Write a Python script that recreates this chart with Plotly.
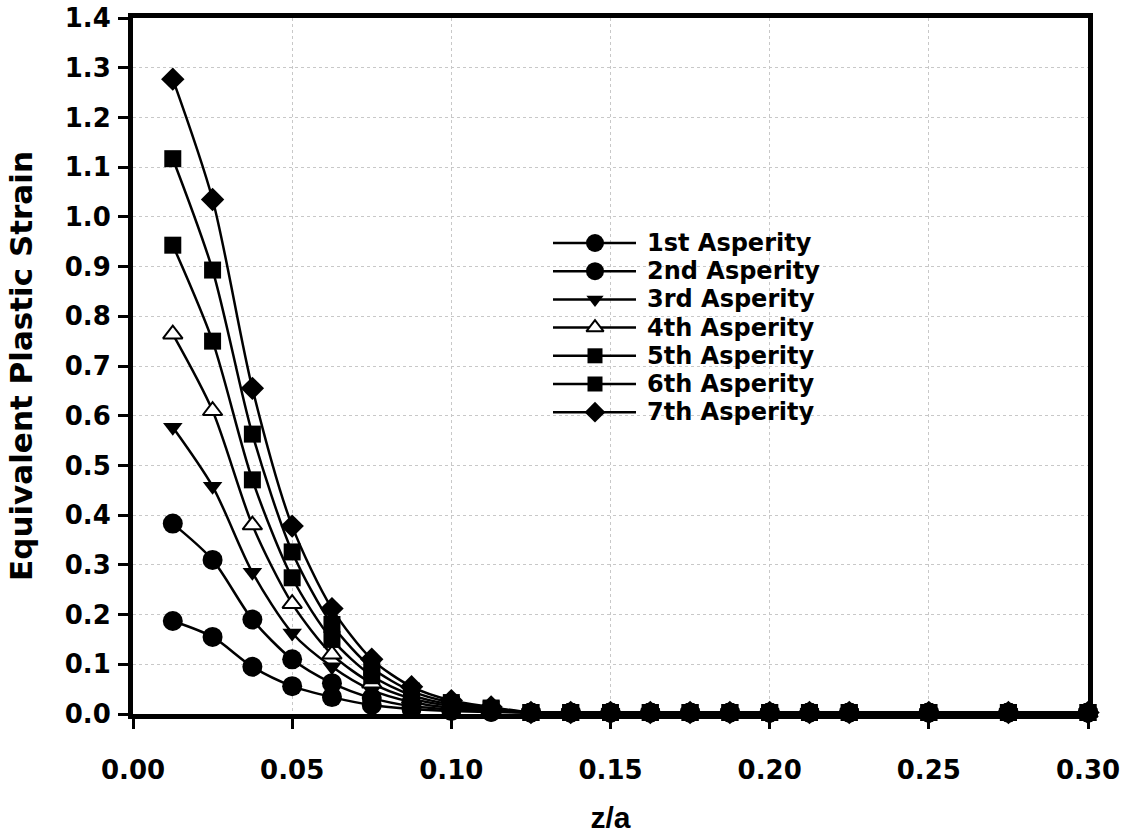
import plotly.graph_objects as go

# depth below the contact surface, normalised by contact radius
z_over_a = [0.0125, 0.025, 0.0375, 0.05, 0.0625, 0.075, 0.0875, 0.1, 0.1125,
            0.125, 0.1375, 0.15, 0.1625, 0.175, 0.1875, 0.2, 0.2125, 0.225,
            0.25, 0.275, 0.3]

tail = [0.003] * 12

strain_1 = [0.187, 0.155, 0.095, 0.056, 0.034, 0.018, 0.010, 0.006, 0.004] + tail
strain_2 = [0.383, 0.310, 0.190, 0.110, 0.062, 0.032, 0.016, 0.009, 0.005] + tail
strain_3 = [0.577, 0.458, 0.285, 0.163, 0.095, 0.048, 0.024, 0.012, 0.007] + tail
strain_4 = [0.764, 0.610, 0.380, 0.222, 0.120, 0.062, 0.031, 0.016, 0.008] + tail
strain_5 = [0.943, 0.750, 0.471, 0.274, 0.150, 0.077, 0.038, 0.019, 0.010] + tail
strain_6 = [1.117, 0.893, 0.563, 0.326, 0.180, 0.093, 0.046, 0.023, 0.012] + tail
strain_7 = [1.277, 1.035, 0.655, 0.378, 0.212, 0.110, 0.055, 0.027, 0.014] + tail

series_names = ["1st Asperity", "2nd Asperity", "3rd Asperity", "4th Asperity",
                "5th Asperity", "6th Asperity", "7th Asperity"]
series_values = [strain_1, strain_2, strain_3, strain_4, strain_5, strain_6, strain_7]

# marker style per series: (symbol, size, fill)
marker_styles = [
    ("circle", 20, "black"),
    ("circle", 20, "black"),
    ("triangle-down", 17, "black"),
    ("triangle-up", 17, "white"),
    ("square", 17, "black"),
    ("square", 17, "black"),
    ("diamond", 18, "black"),
]

WIDE = "DejaVu Sans, Liberation Sans, Arial, sans-serif"
ARIAL = "Liberation Sans, Arial, sans-serif"

# plot area in pixels (used to place the compact key inside the frame)
W, H = 1129, 834
M_L, M_R, M_T, M_B = 133, 41, 18, 120
PW, PH = W - M_L - M_R, H - M_T - M_B


def px_to_frac_x(px):
    return (px - M_L) / PW


def px_to_frac_y(py):
    return (H - M_B - py) / PH


fig = go.Figure()
for name, vals, (sym, size, fill) in zip(series_names, series_values, marker_styles):
    fig.add_trace(go.Scatter(
        x=z_over_a, y=vals, name=name, mode="lines+markers",
        line=dict(color="black", width=2.5, shape="spline", smoothing=0.8),
        marker=dict(symbol=sym, size=size, color=fill,
                    line=dict(color="black", width=2 if fill == "white" else 0)),
        cliponaxis=False, showlegend=False,
    ))

# compact key: sample line + marker per series, drawn on a hidden overlay axis
key_line_x0, key_line_x1, key_mark_x, key_text_x = 553, 636, 595, 645
key_row0, key_row_step = 243, 28.2
for i, (name, (sym, size, fill)) in enumerate(zip(series_names, marker_styles)):
    yk = px_to_frac_y(key_row0 + i * key_row_step)
    fig.add_trace(go.Scatter(
        x=[px_to_frac_x(key_line_x0), px_to_frac_x(key_line_x1)], y=[yk, yk],
        xaxis="x2", yaxis="y2", mode="lines",
        line=dict(color="black", width=2.5), showlegend=False,
        hoverinfo="skip", cliponaxis=False,
    ))
    fig.add_trace(go.Scatter(
        x=[px_to_frac_x(key_mark_x)], y=[yk], xaxis="x2", yaxis="y2",
        mode="markers", showlegend=False, hoverinfo="skip", cliponaxis=False,
        marker=dict(symbol=sym, size=size - 2, color=fill,
                    line=dict(color="black", width=2 if fill == "white" else 0)),
    ))
    fig.add_annotation(
        x=px_to_frac_x(key_text_x), y=yk, xref="x2", yref="y2",
        text=name, showarrow=False, xanchor="left", yanchor="middle",
        font=dict(family=WIDE, size=24, color="black", weight="bold"),
    )

axis_common = dict(
    showline=True, linewidth=5, linecolor="black", mirror=True,
    ticks="outside", ticklen=10, tickwidth=3, tickcolor="black",
    showgrid=True, gridcolor="#c8c8c8", griddash="dot", gridwidth=1,
    zeroline=False,
    tickfont=dict(family=WIDE, size=26, color="black", weight="bold"),
)

fig.update_xaxes(
    range=[0, 0.3], dtick=0.05, tick0=0, tickformat=".2f",
    ticklabelstandoff=19,
    title=dict(text="z/a", standoff=26,
               font=dict(family=ARIAL, size=30, color="black", weight="bold")),
    **axis_common,
)
fig.update_yaxes(
    range=[0, 1.4], dtick=0.1, tick0=0, tickformat=".1f",
    ticklabelstandoff=2,
    title=dict(text="Equivalent Plastic Strain", standoff=24,
               font=dict(family=WIDE, size=31, color="black", weight="bold")),
    **axis_common,
)

fig.update_layout(
    width=W, height=H,
    margin=dict(l=M_L, r=M_R, t=M_T, b=M_B, autoexpand=False),
    paper_bgcolor="white", plot_bgcolor="white",
    font=dict(family=ARIAL, color="black"),
    showlegend=False,
    xaxis2=dict(overlaying="x", range=[0, 1], visible=False, fixedrange=True),
    yaxis2=dict(overlaying="y", range=[0, 1], visible=False, fixedrange=True),
)

fig.write_html("out.html")
